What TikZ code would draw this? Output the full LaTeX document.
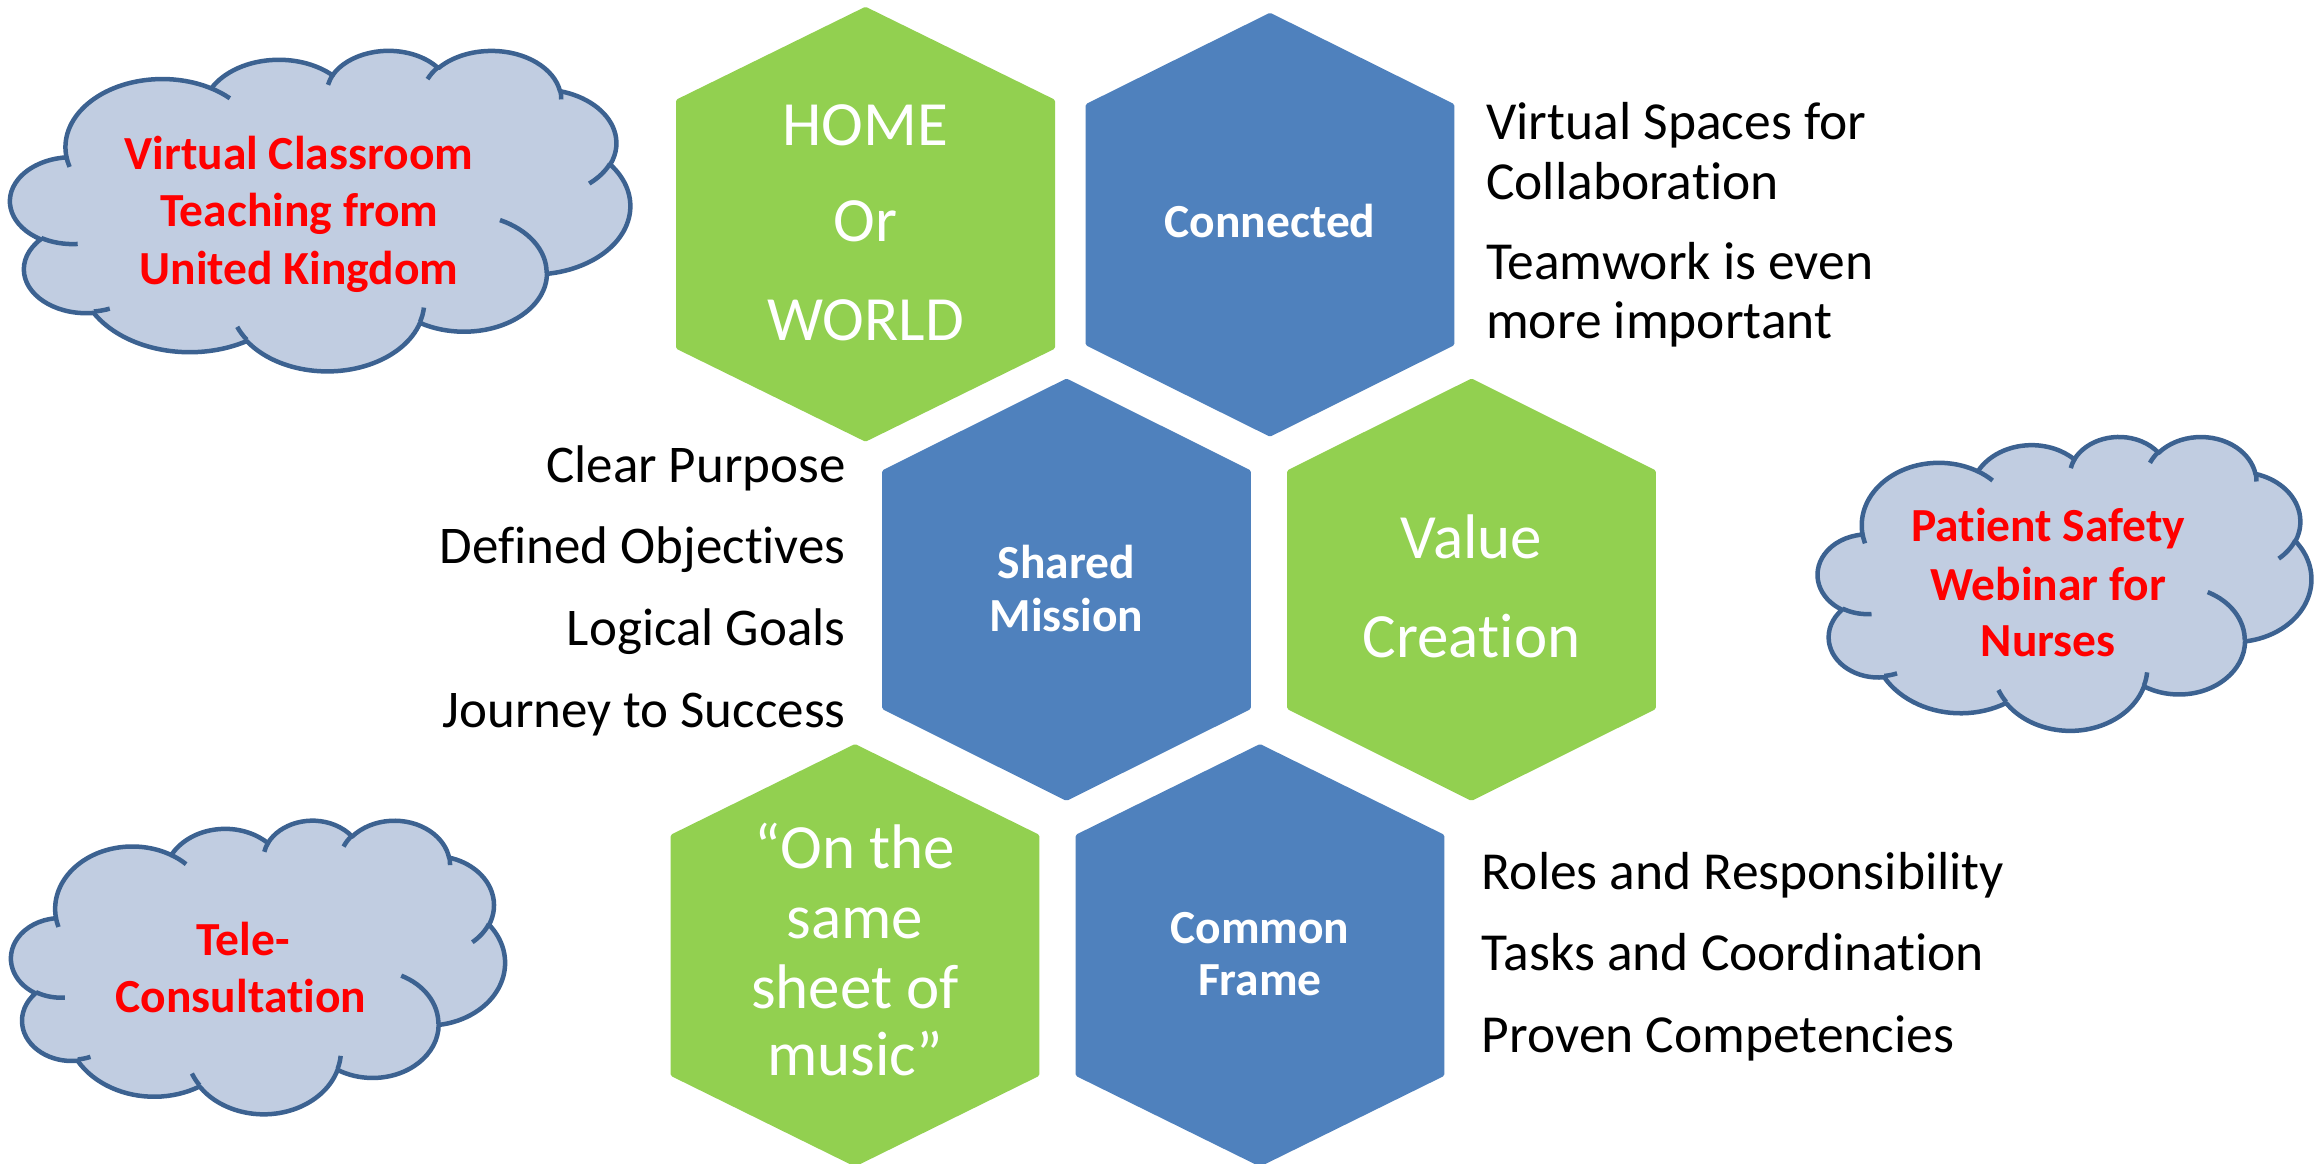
\documentclass[tikz,border=0pt]{standalone}
\usepackage{fontspec}
\setmainfont{Carlito}[Ligatures={NoCommon,NoContextual}]
\definecolor{hgreen}{HTML}{92D050}
\definecolor{hblue}{HTML}{4F81BD}
\definecolor{cfill}{HTML}{C1CDE1}
\definecolor{cline}{HTML}{3C6291}
% convert DrawingML visual arc angles to TikZ parametric angles (y-up)
\newcommand\ooconv[5]{%
  \pgfmathsetmacro\ooTa{atan2((#2)*sin(#4),(#3)*cos(#4))}%
  \pgfmathsetmacro\ooTb{atan2((#2)*sin(#4+#5),(#3)*cos(#4+#5))}%
  \pgfmathsetmacro\ooD{mod(\ooTb-\ooTa+720,360)}%
  \pgfmathsetmacro\ooS{-\ooTa}%
  \pgfmathsetmacro\ooE{-\ooD}%
  \expandafter\xdef\csname oos#1\endcsname{\ooS}%
  \expandafter\xdef\csname ood#1\endcsname{\ooE}%
}
\ooconv{A}{675.3}{919.0}{-190.4875}{123.7805}
\ooconv{B}{533.3}{726.7}{-144.1024}{89.9452}
\ooconv{C}{436.5}{594.5}{-145.8079}{99.7230}
\ooconv{D}{485.7}{659.5}{-130.9861}{117.2417}
\ooconv{E}{533.3}{727.3}{-78.7089}{109.0269}
\ooconv{F}{677.5}{922.0}{-46.2673}{130.2690}
\ooconv{G}{578.5}{786.7}{0.6250}{114.0333}
\ooconv{H}{675.2}{921.5}{22.4516}{115.1726}
\ooconv{I}{772.0}{1054.3}{66.2426}{75.7110}
\ooconv{J}{436.0}{591.8}{-274.9421}{146.7356}
\ooconv{K}{434.5}{594.5}{-246.8285}{152.5189}
\ooconv{a}{434.5}{594.5}{86.7420}{26.4295}
\ooconv{b}{436.0}{591.8}{73.6105}{11.4475}
\ooconv{c}{675.2}{921.5}{137.6242}{14.0811}
\ooconv{d}{675.2}{921.5}{6.4533}{15.9984}
\ooconv{e}{578.5}{786.7}{-70.2924}{70.9174}
\ooconv{f}{533.3}{727.3}{30.3180}{27.7515}
\ooconv{g}{485.7}{659.5}{-13.7443}{14.8589}
\ooconv{h}{485.7}{659.5}{-149.1815}{18.1954}
\ooconv{i}{436.5}{594.5}{-163.4943}{17.6864}
\ooconv{j}{675.3}{919.0}{-66.7070}{12.3194}
\ooconv{k}{675.3}{919.0}{157.6544}{11.8582}
% cloud: #1 left, #2 top (image px), #3 x unit, #4 y unit
\newcommand\cloudshape[4]{%
  \begin{scope}[shift={(#1,-#2)}, x=#3, y=#4]
    \path[cloudbody] (390,-1437)
      arc[start angle=\oosA, delta angle=\oodA, x radius=675.3, y radius=919.0]
      arc[start angle=\oosB, delta angle=\oodB, x radius=533.3, y radius=726.7]
      arc[start angle=\oosC, delta angle=\oodC, x radius=436.5, y radius=594.5]
      arc[start angle=\oosD, delta angle=\oodD, x radius=485.7, y radius=659.5]
      arc[start angle=\oosE, delta angle=\oodE, x radius=533.3, y radius=727.3]
      arc[start angle=\oosF, delta angle=\oodF, x radius=677.5, y radius=922.0]
      arc[start angle=\oosG, delta angle=\oodG, x radius=578.5, y radius=786.7]
      arc[start angle=\oosH, delta angle=\oodH, x radius=675.2, y radius=921.5]
      arc[start angle=\oosI, delta angle=\oodI, x radius=772.0, y radius=1054.3]
      arc[start angle=\oosJ, delta angle=\oodJ, x radius=436.0, y radius=591.8]
      arc[start angle=\oosK, delta angle=\oodK, x radius=434.5, y radius=594.5]
      -- cycle;
    \draw[cloudedge]
      (469.3,-2617.7) arc[start angle=\oosa, delta angle=\ooda, x radius=434.5, y radius=594.5]
      (692.8,-3489.9) arc[start angle=\oosb, delta angle=\oodb, x radius=436.0, y radius=591.8]
      (1647.8,-3909.0) arc[start angle=\oosc, delta angle=\oodc, x radius=675.2, y radius=921.5]
      (2882.7,-3475.1) arc[start angle=\oosd, delta angle=\oodd, x radius=675.2, y radius=921.5]
      (3412.9,-2295.4) arc[start angle=\oose, delta angle=\oode, x radius=578.5, y radius=786.7]
      (4179.8,-1535.4) arc[start angle=\oosf, delta angle=\oodf, x radius=533.3, y radius=727.3]
      (3832.4,-542.6) arc[start angle=\oosg, delta angle=\oodg, x radius=485.7, y radius=659.5]
      (2907.8,-395.2) arc[start angle=\oosh, delta angle=\oodh, x radius=485.7, y radius=659.5]
      (2214.1,-472.0) arc[start angle=\oosi, delta angle=\oodi, x radius=436.5, y radius=594.5]
      (1400.0,-519.2) arc[start angle=\oosj, delta angle=\oodj, x radius=675.3, y radius=919.0]
      (412.7,-1578.9) arc[start angle=\oosk, delta angle=\oodk, x radius=675.3, y radius=919.0];
  \end{scope}}
% hexagon: cx, cy (image px), half width, half side, half height, colour
\newcommand\hexa[6]{%
  \fill[#6, rounded corners=1.5pt] (#1,-#2+#5) -- (#1+#3,-#2+#4) -- (#1+#3,-#2-#4)
    -- (#1,-#2-#5) -- (#1-#3,-#2-#4) -- (#1-#3,-#2+#4) -- cycle;}
\tikzset{
  cloudbody/.style={fill=cfill, draw=cline, line width=4.5pt, line join=round},
  cloudedge/.style={draw=cline, line width=4.5pt},
  hextxt/.style={text=white, font=\fontsize{63}{69}\selectfont, anchor=base, inner sep=0pt},
  hexbold/.style={text=white, font=\fontsize{47.5}{52}\selectfont\bfseries, anchor=base, inner sep=0pt},
  sidel/.style={text=black, font=\fontsize{53.5}{60}\selectfont, anchor=base west, inner sep=0pt},
  sider/.style={text=black, font=\fontsize{53}{60}\selectfont, anchor=base east, inner sep=0pt},
  cloudtxt/.style={text=red, font=\fontsize{47.5}{52}\selectfont\bfseries, anchor=base, inner sep=0pt}
}
\begin{document}
\begin{tikzpicture}[x=1pt, y=1pt]
\fill[white] (0,0) rectangle (2320,-1163);
\useasboundingbox (0,0) rectangle (2320,-1163);

% hexagons
\hexa{865.5}{224.2}{189.5}{124.4}{217.5}{hgreen}
\hexa{1270}{224.7}{184.3}{120.5}{212}{hblue}
\hexa{1066.5}{589.7}{184.3}{119.3}{211.2}{hblue}
\hexa{1471.5}{589.7}{184.3}{119.3}{211.2}{hgreen}
\hexa{855}{955.3}{184.3}{120.5}{211.3}{hgreen}
\hexa{1260}{955.3}{184.3}{120.5}{211.3}{hblue}

% hexagon texts
\node[hextxt] (home1) at (865.5,-145) {HOME};
\node[hextxt] (home2) at (865.5,-241.7) {Or};
\node[hextxt] (home3) at (865.5,-340) {WORLD};
\node[hexbold] (conn) at (1270,-237.7) {Connected};
\node[hexbold] (shared1) at (1066.5,-578) {Shared};
\node[hexbold] (shared2) at (1066.5,-631) {Mission};
\node[hextxt] (value1) at (1471.5,-558.4) {Value};
\node[hextxt] (value2) at (1471.5,-657) {Creation};
\node[hextxt] (same1) at (855,-868.5) {“On the};
\node[hextxt] (same2) at (855,-938.5) {same};
\node[hextxt] (same3) at (855,-1008.5) {sheet of};
\node[hextxt] (same4) at (855,-1075.9) {music”};
\node[hexbold] (common1) at (1260,-943.7) {Common};
\node[hexbold] (common2) at (1260,-995.5) {Frame};

% side texts
\node[sidel] (tr1) at (1486,-139.3) {Virtual Spaces for};
\node[sidel] (tr2) at (1486,-199) {Collaboration};
\node[sidel] (tr3) at (1486,-279.3) {Teamwork is even};
\node[sidel] (tr4) at (1486,-338.3) {more important};
\node[sider] (l1) at (845.7,-482.2) {Clear Purpose};
\node[sider] (l2) at (845.7,-563.6) {Defined Objectives};
\node[sider] (l3) at (845.7,-645.5) {Logical Goals};
\node[sider] (l4) at (845.7,-727) {Journey to Success};
\node[sidel] (br1) at (1481.7,-889.2) {Roles and Responsibility};
\node[sidel] (br2) at (1481.7,-970.6) {Tasks and Coordination};
\node[sidel] (br3) at (1481.7,-1052.5) {Proven Competencies};

% clouds
\cloudshape{10.4}{49.8}{0.14345pt}{0.074167pt}
\cloudshape{1817.9}{436}{0.11419pt}{0.068009pt}
\cloudshape{11.3}{819.7}{0.11426pt}{0.067940pt}

\node[cloudtxt] (c1a) at (298.8,-169) {Virtual Classroom};
\node[cloudtxt] (c1b) at (299.5,-226.7) {Teaching from};
\node[cloudtxt] (c1c) at (299,-284.3) {United Kingdom};
\node[cloudtxt] (c2a) at (2048.3,-541.7) {Patient Safety};
\node[cloudtxt] (c2b) at (2048.3,-600) {Webinar for};
\node[cloudtxt] (c2c) at (2048.3,-656.7) {Nurses};
\node[cloudtxt] (c3a) at (243,-955) {Tele-};
\node[cloudtxt] (c3b) at (241,-1012.3) {Consultation};
\end{tikzpicture}
\end{document}
